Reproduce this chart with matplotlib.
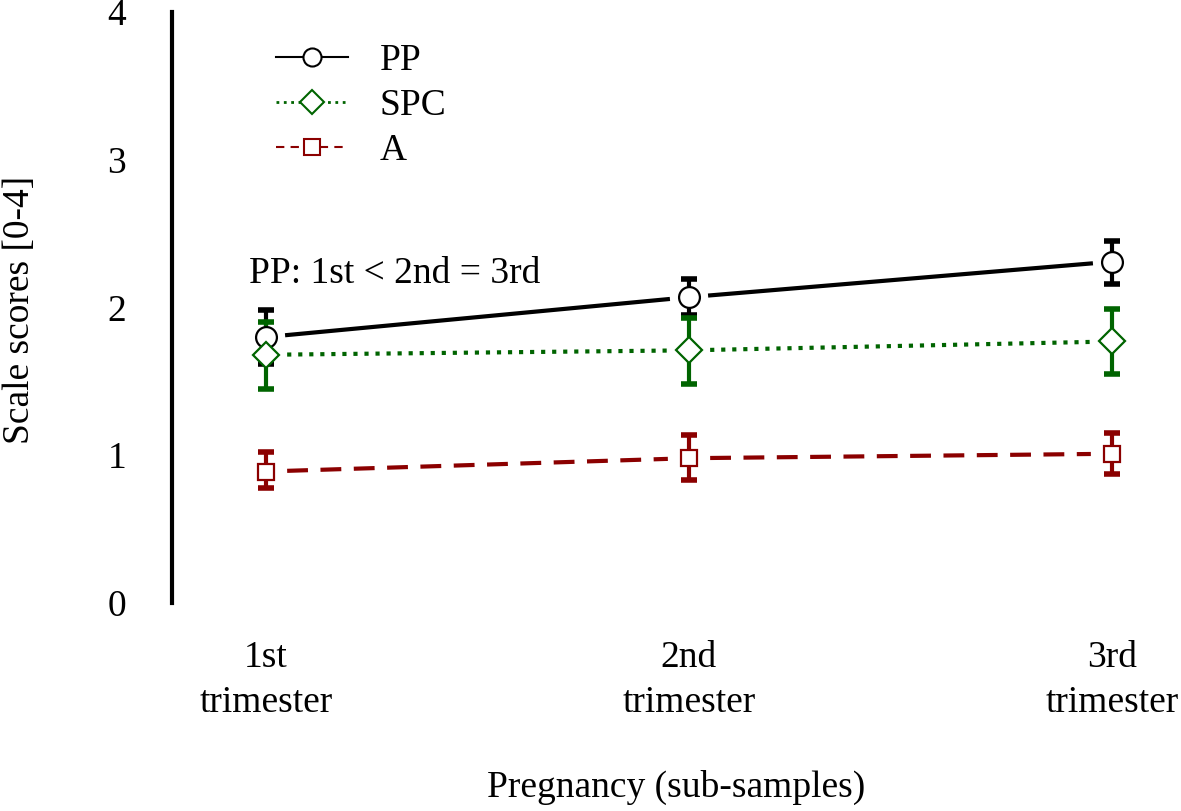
import matplotlib
matplotlib.use("Agg")
import matplotlib.pyplot as plt
from matplotlib.lines import Line2D

plt.rcParams["font.family"] = ["Liberation Serif", "DejaVu Serif"]

trimesters = ["1st\ntrimester", "2nd\ntrimester", "3rd\ntrimester"]
pp_mean = [1.80, 2.07, 2.31]
pp_lo = [1.62, 1.95, 2.16]
pp_hi = [1.98, 2.19, 2.45]
spc_mean = [1.68, 1.71, 1.77]
spc_lo = [1.45, 1.48, 1.55]
spc_hi = [1.90, 1.93, 1.99]
a_mean = [0.89, 0.98, 1.01]
a_lo = [0.78, 0.83, 0.87]
a_hi = [1.02, 1.14, 1.15]

series = [
    ("PP", pp_mean, pp_lo, pp_hi, "black", "-", "o", 15),
    ("SPC", spc_mean, spc_lo, spc_hi, "#006400", ":", "D", 13),
    ("A", a_mean, a_lo, a_hi, "#8B0000", (0, (5, 3)), "s", 12),
]

FS = 27
fig = plt.figure(figsize=(11.81, 8.11), dpi=100)
ax = fig.add_axes([172 / 1181, 1 - 603 / 811, 1 - 172 / 1181, (603 - 12) / 811])
x = [1, 2, 3]
gap = 0.05  # connecting lines stop short of the markers

for name, m, lo, hi, col, ls, mk, ms in series:
    yerr = [[a - b for a, b in zip(m, lo)], [b - a for a, b in zip(m, hi)]]
    ax.errorbar(x, m, yerr=yerr, fmt="none", ecolor=col, elinewidth=3,
                capsize=6, capthick=4, zorder=2)
    for i in range(len(x) - 1):
        x0, x1, y0, y1 = x[i], x[i + 1], m[i], m[i + 1]
        f0, f1 = gap / (x1 - x0), 1 - gap / (x1 - x0)
        ax.plot([x0 + f0 * (x1 - x0), x0 + f1 * (x1 - x0)],
                [y0 + f0 * (y1 - y0), y0 + f1 * (y1 - y0)],
                color=col, linestyle=ls, linewidth=3, zorder=3)
    ax.plot(x, m, linestyle="none", marker=mk, markersize=ms,
            markerfacecolor="white", markeredgecolor=col,
            markeredgewidth=1.6, zorder=4)

ax.set_xlim(1 - 94 / 423, 3 + 69 / 423)
ax.set_ylim(0, 4)
ax.set_yticks([0, 1, 2, 3, 4])
ax.set_xticks(x)
ax.set_xticklabels(trimesters, linespacing=1.4)
ax.tick_params(axis="both", length=0, labelsize=FS)
ax.tick_params(axis="y", pad=33)
ax.tick_params(axis="x", pad=27)
for s in ["top", "right", "bottom"]:
    ax.spines[s].set_visible(False)
ax.spines["left"].set_linewidth(3)

ax.set_ylabel("Scale scores [0-4]", fontsize=FS)
ax.yaxis.set_label_coords(-0.134, 0.496)
ax.set_xlabel("Pregnancy (sub-samples)", fontsize=FS, labelpad=36)

ax.text(0.96, 2.23, "PP: 1st < 2nd = 3rd", fontsize=FS, va="center", ha="left")

handles = [
    Line2D([], [], color="black", linestyle="-", linewidth=1.5, marker="o",
           markersize=13, markerfacecolor="white", markeredgecolor="black",
           markeredgewidth=1.5),
    Line2D([], [], color="#006400", linestyle=":", linewidth=2, marker="D",
           markersize=12, markerfacecolor="white", markeredgecolor="#006400",
           markeredgewidth=1.5),
    Line2D([], [], color="#8B0000", linestyle=(0, (4, 3)), linewidth=1.5,
           marker="s", markersize=11, markerfacecolor="white",
           markeredgecolor="#8B0000", markeredgewidth=1.5),
]
ax.legend(handles, ["PP", "SPC", "A"], loc="upper left",
          bbox_to_anchor=(0.07, 1.003), frameon=False, fontsize=FS,
          handlelength=1.9, labelspacing=0.27, handletextpad=0.85)

fig.savefig("out.png", dpi=100)
